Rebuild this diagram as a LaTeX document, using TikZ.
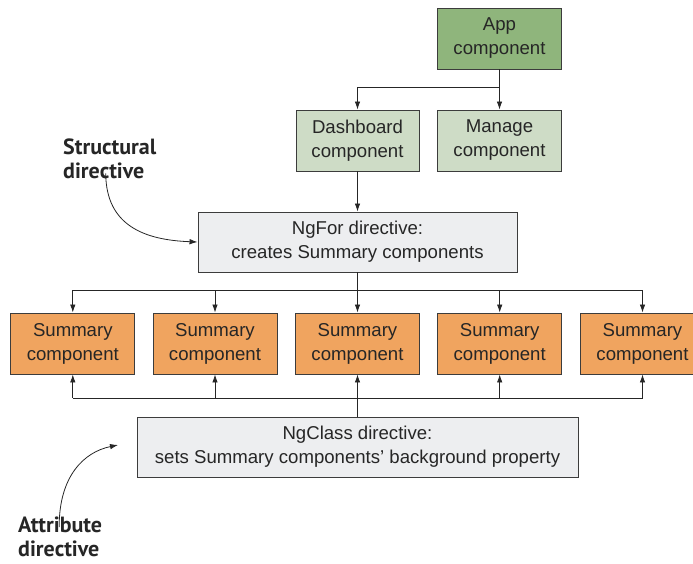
\documentclass[tikz,border=0pt]{standalone}
\usepackage{fontspec}
\setmainfont{Liberation Sans}
\newfontfamily\labelfont{PT Sans}
\usetikzlibrary{arrows.meta}

\definecolor{appgreen}{RGB}{143,181,124}
\definecolor{subgreen}{RGB}{206,220,198}
\definecolor{sumorange}{RGB}{240,164,95}
\definecolor{dirgray}{RGB}{237,238,240}
\definecolor{edgegray}{RGB}{60,60,60}

\tikzset{
  compbox/.style={draw=edgegray, line width=0.9pt, minimum width=124pt, minimum height=61pt,
    align=center, inner sep=0pt, font=\fontsize{18.6}{24}\selectfont, text=black!85},
  arr/.style={-{Latex[length=8pt,width=5.5pt]}, line width=0.8pt, draw=black!85},
  conn/.style={line width=0.8pt, draw=black!85},
  sidelabel/.style={align=left, inner sep=0pt, font=\labelfont\bfseries\fontsize{22}{24}\selectfont, text=black!85}
}

\begin{document}
\begin{tikzpicture}[x=1pt, y=-1pt]
  \useasboundingbox (0,0) rectangle (693,563);

  % top tree
  \node[compbox, fill=appgreen] (app) at (499.5,38.5) {App\\component};
  \node[compbox, fill=subgreen, minimum width=123pt] (dash) at (357.5,140.5) {Dashboard\\component};
  \node[compbox, fill=subgreen] (manage) at (499.5,140.5) {Manage\\component};
  \coordinate (j1) at (499.5,87);
  \draw[arr] (app) -- (manage);
  \draw[arr] (j1) -| (dash.north);

  \node[compbox, fill=dirgray, minimum width=319pt, minimum height=60pt] (ngfor) at (357.5,242)
    {NgFor directive:\\creates Summary components};
  \draw[arr] (dash) -- (ngfor);

  % summary row
  \foreach \i/\x in {1/72.8,2/215,3/357.5,4/499.7,5/642.5}
    \node[compbox, fill=sumorange] (s\i) at (\x,343.5) {Summary\\component};
  \coordinate (j2) at (357.5,290);
  \coordinate (j3) at (357.5,398);
  \draw[conn] (ngfor) -- (j2);
  \draw[conn] (s1.north |- j2) -- (s5.north |- j2);
  \draw[conn] (s1.south |- j3) -- (s5.south |- j3);
  \foreach \i in {1,...,5} {
    \draw[arr] (s\i.north |- j2) -- (s\i.north);
    \draw[arr] (s\i.south |- j3) -- (s\i.south);
  }

  \node[compbox, fill=dirgray, minimum width=441pt, minimum height=60pt] (ngclass) at (357.5,447)
    {NgClass directive:\\sets Summary components' background property};
  \draw[conn] (ngclass) -- (j3);

  % side labels
  \node[sidelabel, anchor=north west] (structlbl) at (63,139) {Structural\\directive};
  \draw[arr] ([xshift=-4pt,yshift=6pt]structlbl.south) .. controls (106,226) and (145,240) .. (ngfor.west);

  \node[sidelabel, anchor=north west] (attrlbl) at (18,517) {Attribute\\directive};
  \draw[arr] ([xshift=-1pt,yshift=-10pt]attrlbl.north) .. controls (59,476) and (84,452) .. ([yshift=2pt]ngclass.west -| 118,0);
\end{tikzpicture}
\end{document}
